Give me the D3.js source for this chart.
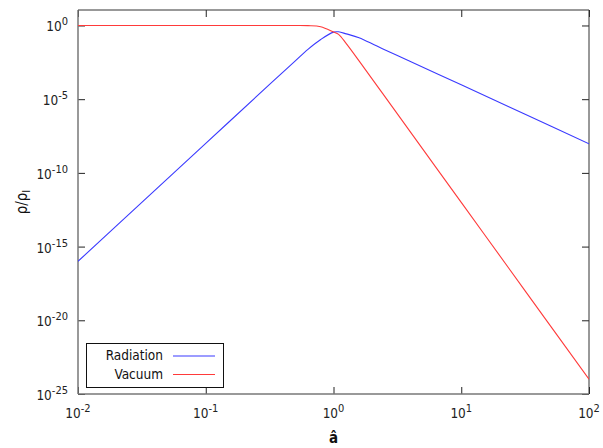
<!DOCTYPE html>
<html>
<head>
<meta charset="utf-8">
<script src="https://cdn.jsdelivr.net/npm/d3@7"></script>
<style>
  body { margin: 0; background: #fff; }
  svg { display: block; font-family: "DejaVu Sans Condensed", "DejaVu Sans", sans-serif; font-stretch: condensed; }
</style>
</head>
<body>
<svg width="603" height="448"></svg>
<script>
// values
const aHat = [0.01, 0.0316, 0.1, 0.316, 0.5, 0.631, 0.794, 1.0, 1.096, 1.259, 1.585, 2.188, 3.162, 10, 31.62, 100]
const radiation = [1e-16, 1e-12, 1e-8, 1e-4, 3.8e-3, 2.4e-2, 0.112, 0.355, 0.372, 0.27, 0.148, 0.0398, 9.3e-3, 9.5e-5, 9.5e-7, 9.5e-9]
const vacuum = [1, 1, 1, 1, 1, 0.98, 0.83, 0.363, 0.25, 0.059, 4e-3, 8.3e-5, 1e-6, 1e-12, 1e-18, 1e-24]

const xTicks = [1e-2, 1e-1, 1e0, 1e1, 1e2]
const xTickExp = ["-2", "-1", "0", "1", "2"]
const yTicks = [1e-25, 1e-20, 1e-15, 1e-10, 1e-5, 1e0]
const yTickExp = ["-25", "-20", "-15", "-10", "-5", "0"]
const yMax = Math.pow(10, 1.05)

const series = [
  { name: "Radiation", values: radiation, color: "#3a3aff" },
  { name: "Vacuum", values: vacuum, color: "#ff3a3a" }
]

const svg = d3.select("svg")
const m = { left: 78, right: 589, top: 10, bottom: 394 }

const x = d3.scaleLog().domain([1e-2, 1e2]).range([m.left, m.right])
const y = d3.scaleLog().domain([1e-25, yMax]).range([m.bottom, m.top])

// ticks (inward, mirrored)
const tickLen = 7
svg.append("g")
  .attr("transform", "translate(0," + m.bottom + ")")
  .call(d3.axisBottom(x).tickValues(xTicks).tickSize(-tickLen).tickFormat(""))
svg.append("g")
  .attr("transform", "translate(0," + m.top + ")")
  .call(d3.axisTop(x).tickValues(xTicks).tickSize(-tickLen).tickFormat(""))
svg.append("g")
  .attr("transform", "translate(" + m.left + ",0)")
  .call(d3.axisLeft(y).tickValues(yTicks).tickSize(-tickLen).tickFormat(""))
svg.append("g")
  .attr("transform", "translate(" + m.right + ",0)")
  .call(d3.axisRight(y).tickValues(yTicks).tickSize(-tickLen).tickFormat(""))
svg.selectAll(".domain").remove()
svg.selectAll(".tick line").attr("stroke", "#222")

// frame
svg.append("line").attr("x1", m.left).attr("x2", m.right).attr("y1", m.top).attr("y2", m.top).attr("stroke", "#333")
svg.append("line").attr("x1", m.right).attr("x2", m.right).attr("y1", m.top).attr("y2", m.bottom).attr("stroke", "#333")
svg.append("line").attr("x1", m.left).attr("x2", m.left).attr("y1", m.top).attr("y2", m.bottom).attr("stroke", "#777").attr("stroke-width", 1.5)
svg.append("line").attr("x1", m.left).attr("x2", m.right).attr("y1", m.bottom).attr("y2", m.bottom).attr("stroke", "#777").attr("stroke-width", 1.5)

// tick labels with superscripts
const xl = svg.append("g").selectAll("text")
  .data(xTicks)
  .enter()
  .append("text")
  .attr("x", d => x(d))
  .attr("y", 418)
  .attr("text-anchor", "middle")
  .style("font-size", "13.5px")
  .style("fill", "#222")
xl.append("tspan").text("10")
xl.append("tspan").attr("dy", -6).style("font-size", "11px").text((d, i) => xTickExp[i])

const yl = svg.append("g").selectAll("text")
  .data(yTicks)
  .enter()
  .append("text")
  .attr("x", 68)
  .attr("y", d => y(d) + 6)
  .attr("text-anchor", "end")
  .style("font-size", "13.5px")
  .style("fill", "#222")
yl.append("tspan").text("10")
yl.append("tspan").attr("dy", -6).style("font-size", "11px").text((d, i) => yTickExp[i])

// axis titles
const yt = svg.append("text")
  .attr("transform", "translate(27," + ((m.top + m.bottom) / 2) + ") rotate(-90)")
  .attr("text-anchor", "middle")
  .style("font-size", "15px")
  .style("fill", "#111")
yt.append("tspan").text("ρ/ρ")
yt.append("tspan").attr("dy", 3).style("font-size", "11px").text("I")

svg.append("text")
  .attr("x", x(1))
  .attr("y", 443)
  .attr("text-anchor", "middle")
  .style("font-size", "15px")
  .style("font-weight", "bold")
  .style("fill", "#111")
  .text("â")

// curves
svg.append("clipPath").attr("id", "clip")
  .append("rect").attr("x", m.left).attr("y", m.top).attr("width", m.right - m.left).attr("height", m.bottom - m.top)

const line = d3.line()
  .x(d => x(d[0]))
  .y(d => y(d[1]))
  .curve(d3.curveCatmullRom.alpha(0.5))

svg.append("g")
  .attr("clip-path", "url(#clip)")
  .selectAll("path")
  .data(series)
  .enter()
  .append("path")
  .attr("fill", "none")
  .attr("stroke", d => d.color)
  .attr("stroke-width", 1.1)
  .attr("d", d => line(aHat.map((a, i) => [a, d.values[i]])))

// legend
const legend = svg.append("g").attr("id", "legend")
legend.append("rect")
  .attr("x", 86.5).attr("y", 343.5)
  .attr("width", 137).attr("height", 44)
  .attr("fill", "#fff")
  .attr("stroke", "#111")
const item = legend.selectAll(".legenditem")
  .data(series)
  .enter()
  .append("g")
  .attr("class", "legenditem")
  .attr("transform", (d, i) => "translate(0," + (i * 18.5) + ")")
item.append("text")
  .attr("x", 163)
  .attr("y", 360)
  .attr("text-anchor", "end")
  .style("font-size", "13.5px")
  .style("fill", "#111")
  .text(d => d.name)
item.append("line")
  .attr("x1", 173).attr("x2", 215)
  .attr("y1", 356).attr("y2", 356)
  .attr("stroke", d => d.color)
  .attr("stroke-width", 1.1)
</script>
</body>
</html>
